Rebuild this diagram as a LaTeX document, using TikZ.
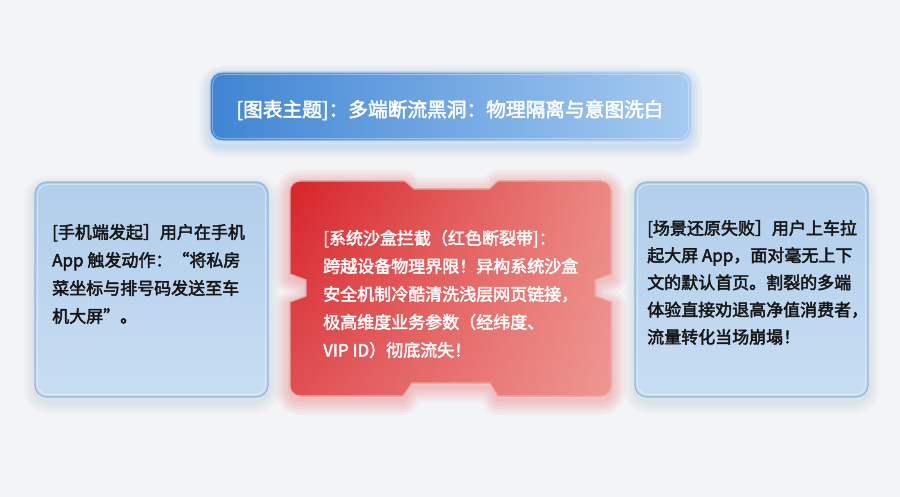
\documentclass[tikz,border=0pt]{standalone}
\usepackage{fontspec}
\setmainfont{Noto Sans CJK SC}[BoldFont=Noto Sans CJK SC, BoldFeatures={FakeBold=2.5}]
\usetikzlibrary{fadings}
\definecolor{bgc}{HTML}{F3F4F6}
\definecolor{titleL}{HTML}{3F85D3}
\definecolor{titleR}{HTML}{A6CBF1}
\definecolor{titleB}{HTML}{B9D7F5}
\definecolor{sideT}{HTML}{B1CEEB}
\definecolor{sideB}{HTML}{C8DDF2}
\definecolor{sideBorder}{HTML}{8FB8E3}
\definecolor{redL}{HTML}{D8242A}
\definecolor{redM}{HTML}{E24E4E}
\definecolor{redR}{HTML}{EC8983}
\definecolor{redBorder}{HTML}{F2A8A2}
\definecolor{redGlow}{HTML}{E84040}
\definecolor{shadowc}{HTML}{7F95AD}
\definecolor{darktext}{HTML}{161616}
\tikzset{
  sidebox/.style={rounded corners=12pt, top color=sideT, bottom color=sideB, draw=sideBorder, line width=1.2pt},
  innerline/.style={rounded corners=10.5pt, draw=white, draw opacity=0.45, line width=0.8pt},
  bodytext/.style={inner sep=0pt, align=left, font=\fontsize{17}{28}\selectfont\bfseries},
}
\def\redshape{(300,181) -- (405,181) -- (414,189) -- (489,189) -- (498,181) -- (601,181) .. controls (606.5,181) and (611,185.5) .. (611,191) -- (611,274) -- (595,280) -- (595,296) -- (611,302) -- (611,386) .. controls (611,391.5) and (606.5,396) .. (601,396) -- (498,396) -- (490,383) -- (412,383) -- (403,396) -- (300,396) .. controls (294.5,396) and (290,391.5) .. (290,386) -- (290,302) -- (306,296) -- (306,280) -- (290,274) -- (290,191) .. controls (290,185.5) and (294.5,181) .. (300,181) -- cycle}
\begin{document}
\begin{tikzpicture}[x=1pt,y=-1pt]
\useasboundingbox (0,0) rectangle (900,497);
\fill[bgc] (0,0) rectangle (900,497);
% ---------- shadows ----------
\begin{scope}[yshift=-5pt]
\foreach \w in {3,7,11,15,19,23}{
  \draw[rounded corners=12pt, draw=shadowc, draw opacity=0.03, line width=\w pt] (35,182) rectangle (268,397);
  \draw[rounded corners=12pt, draw=shadowc, draw opacity=0.03, line width=\w pt] (635,182) rectangle (868,397);
  \draw[rounded corners=12pt, draw=titleL, draw opacity=0.035, line width=\w pt] (210,72) rectangle (691,141);
}
\end{scope}
\begin{scope}[yshift=-4pt]
\foreach \w in {4,9,14,19,24,30}{
  \draw[draw=redGlow, draw opacity=0.05, line width=\w pt, line join=round] \redshape;
}
\end{scope}
% ---------- title ----------
\draw[rounded corners=12pt, left color=titleL, right color=titleR, draw=titleB, line width=1.3pt] (210,72) rectangle (691,141);
\draw[rounded corners=10pt, draw=white, draw opacity=0.35, line width=0.8pt] (212.5,74.5) rectangle (688.5,138.5);
\node[inner sep=0pt, text=white, font=\fontsize{19.7}{24}\selectfont\bfseries] (title) at (450,110) {[图表主题]：多端断流黑洞：物理隔离与意图洗白};
% ---------- left box ----------
\draw[sidebox] (35,182) rectangle (268,397);
\draw[innerline] (37.5,184.5) rectangle (265.5,394.5);
\node[bodytext, text=darktext, anchor=base west] (phone) at (52,322.5) {[手机端发起］用户在手机\\App 触发动作：“将私房\\菜坐标与排号码发送至车\\机大屏”。};
% ---------- right box ----------
\draw[sidebox] (635,182) rectangle (868,397);
\draw[innerline] (637.5,184.5) rectangle (865.5,394.5);
\node[bodytext, text=darktext, anchor=base west, font=\fontsize{17}{27.2}\selectfont\bfseries] (scene) at (647,343.3) {[场景还原失败］用户上车拉\\起大屏 App，面对毫无上下\\文的默认首页。割裂的多端\\体验直接劝退高净值消费者，\\流量转化当场崩塌！};
% ---------- red box ----------
\fill[left color=redL, middle color=redM, right color=redR] \redshape;
\fill[redR!60!white, path fading=north, fill opacity=0.3] \redshape;
\draw[draw=redBorder, line width=1.2pt, line join=round] \redshape;
\node[bodytext, text=white, anchor=base west] (sandbox) at (323,356.5) {[系统沙盒拦截（红色断裂带]：\\跨越设备物理界限！异构系统沙盒\\安全机制冷酷清洗浅层网页链接，\\极高维度业务参数（经纬度、\\VIP ID）彻底流失！};
\end{tikzpicture}
\end{document}
